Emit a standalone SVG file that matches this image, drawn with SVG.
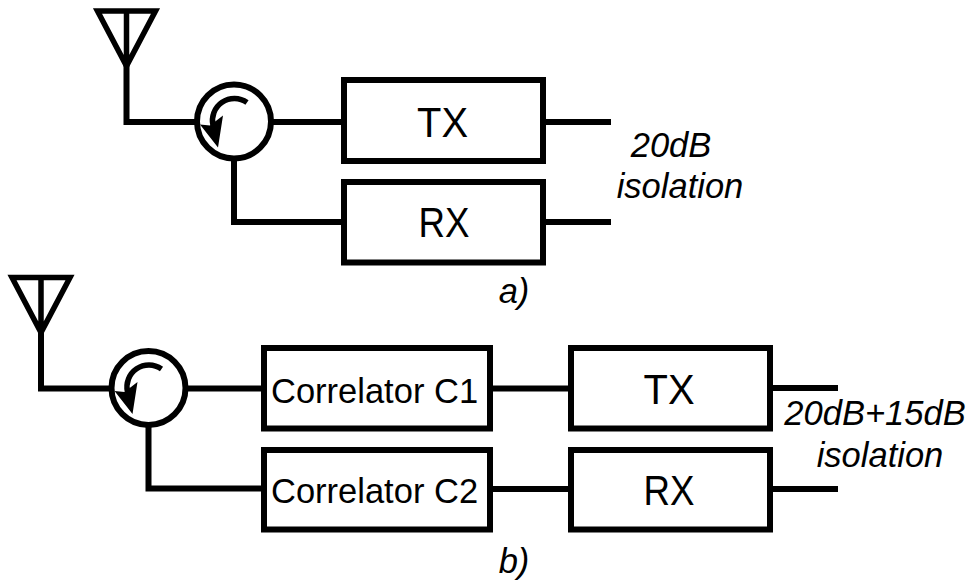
<svg xmlns="http://www.w3.org/2000/svg" width="970" height="581" viewBox="0 0 970 581">
<style>
.l{fill:none;stroke:#000;stroke-width:6}
.a{fill:none;stroke:#000;stroke-width:5.500}
.t{font-family:"Liberation Sans",Arial,sans-serif;fill:#000;text-anchor:middle}
.c{font-family:"Liberation Sans",Arial,sans-serif;fill:#000;font-size:34.500px}
.b{font-size:43px}
.i{font-style:italic;font-size:34.500px}
</style>
<defs>
<g id="ant"><path class="a" d="M-29 0H29L0 55Z M0 0V55"/></g>
<g id="circ"><circle r="37" class="l"/><path d="M13 -19A22 22 0 0 0 -21 4" fill="none" stroke="#000" stroke-width="5.500"/><path d="M-34 3L-24 4L-11 -6L-16 26Z" fill="#000"/></g>
</defs>
<rect width="970" height="581" fill="#fff"/>
<g id="connectors" class="l">
<path d="M126.500 60V122H197"/>
<path d="M271 122H344"/>
<path d="M234 158V222H344"/>
<path d="M543 122H611"/>
<path d="M543 222H611"/>
<path d="M41 332V388.500H111"/>
<path d="M186 388.500H264"/>
<path d="M148.500 425V488.500H264"/>
<path d="M490 388.500H571"/>
<path d="M490 489H571"/>
<path d="M770 388H838"/>
<path d="M770 489H838"/>
</g>
<g id="antenna-a"><use href="#ant" x="126.500" y="11"/></g>
<g id="circulator-a"><use href="#circ" x="234" y="121.500"/></g>
<g id="tx-a"><rect class="l" x="344" y="80" width="199" height="81"/><text class="t b" x="442.500" y="137" textLength="51" lengthAdjust="spacingAndGlyphs">TX</text></g>
<g id="rx-a"><rect class="l" x="344" y="182" width="199" height="80.500"/><text class="t b" x="444" y="237" textLength="51" lengthAdjust="spacingAndGlyphs">RX</text></g>
<g id="label-a"><text class="t i" x="671" y="157">20dB</text><text class="t i" x="680" y="198">isolation</text><text class="t i" x="514" y="303">a)</text></g>
<g id="antenna-b"><use href="#ant" x="41" y="277.500"/></g>
<g id="circulator-b"><use href="#circ" x="148.500" y="388"/></g>
<g id="c1"><rect class="l" x="264" y="348" width="226" height="80.500"/><text class="c" x="271" y="403">Correlator C1</text></g>
<g id="c2"><rect class="l" x="264" y="450" width="226" height="79.500"/><text class="c" x="271" y="503">Correlator C2</text></g>
<g id="tx-b"><rect class="l" x="571" y="348" width="199" height="80.500"/><text class="t b" x="669" y="404" textLength="51" lengthAdjust="spacingAndGlyphs">TX</text></g>
<g id="rx-b"><rect class="l" x="571" y="450" width="199" height="79.500"/><text class="t b" x="669" y="505" textLength="51" lengthAdjust="spacingAndGlyphs">RX</text></g>
<g id="label-b"><text class="t i" x="875" y="425">20dB+15dB</text><text class="t i" x="880" y="467">isolation</text><text class="t i" x="514" y="573">b)</text></g>
</svg>
